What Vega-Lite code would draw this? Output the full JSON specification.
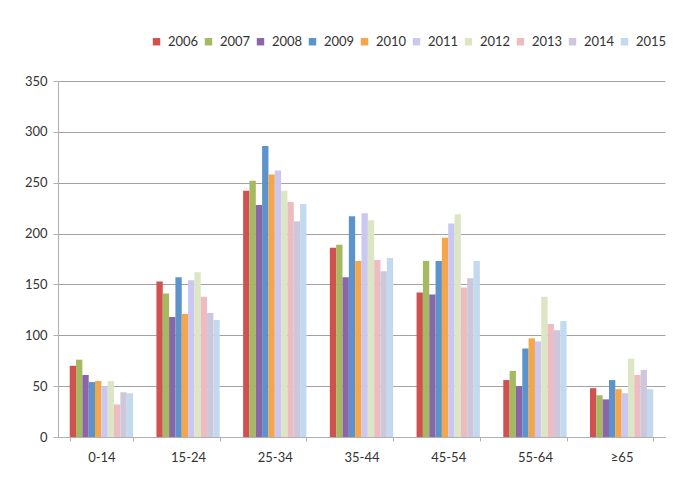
{
  "$schema": "https://vega.github.io/schema/vega-lite/v6.json",
  "autosize": {"type": "none"},
  "width": 607,
  "height": 356,
  "padding": {"left": 58, "top": 81, "right": 11, "bottom": 41},
  "background": "#ffffff",
  "config": {
    "view": {"stroke": null},
    "font": "Lato",
    "axis": {"labelFont": "Lato", "labelColor": "#333333", "labelFontSize": 12, "domainColor": "#b0b0b0", "tickColor": "#b0b0b0"},
    "legend": {"labelFont": "Lato", "labelColor": "#333333", "labelFontSize": 12}
  },
  "data": {
    "values": [
      {"age": "0-14", "year": "2006", "v": 70}, {"age": "0-14", "year": "2007", "v": 76}, {"age": "0-14", "year": "2008", "v": 61}, {"age": "0-14", "year": "2009", "v": 54}, {"age": "0-14", "year": "2010", "v": 55}, {"age": "0-14", "year": "2011", "v": 50}, {"age": "0-14", "year": "2012", "v": 55}, {"age": "0-14", "year": "2013", "v": 32}, {"age": "0-14", "year": "2014", "v": 44}, {"age": "0-14", "year": "2015", "v": 43},
      {"age": "15-24", "year": "2006", "v": 153}, {"age": "15-24", "year": "2007", "v": 141}, {"age": "15-24", "year": "2008", "v": 118}, {"age": "15-24", "year": "2009", "v": 157}, {"age": "15-24", "year": "2010", "v": 121}, {"age": "15-24", "year": "2011", "v": 154}, {"age": "15-24", "year": "2012", "v": 162}, {"age": "15-24", "year": "2013", "v": 138}, {"age": "15-24", "year": "2014", "v": 122}, {"age": "15-24", "year": "2015", "v": 115},
      {"age": "25-34", "year": "2006", "v": 242}, {"age": "25-34", "year": "2007", "v": 252}, {"age": "25-34", "year": "2008", "v": 228}, {"age": "25-34", "year": "2009", "v": 286}, {"age": "25-34", "year": "2010", "v": 258}, {"age": "25-34", "year": "2011", "v": 262}, {"age": "25-34", "year": "2012", "v": 242}, {"age": "25-34", "year": "2013", "v": 231}, {"age": "25-34", "year": "2014", "v": 212}, {"age": "25-34", "year": "2015", "v": 229},
      {"age": "35-44", "year": "2006", "v": 186}, {"age": "35-44", "year": "2007", "v": 189}, {"age": "35-44", "year": "2008", "v": 157}, {"age": "35-44", "year": "2009", "v": 217}, {"age": "35-44", "year": "2010", "v": 173}, {"age": "35-44", "year": "2011", "v": 220}, {"age": "35-44", "year": "2012", "v": 213}, {"age": "35-44", "year": "2013", "v": 174}, {"age": "35-44", "year": "2014", "v": 163}, {"age": "35-44", "year": "2015", "v": 176},
      {"age": "45-54", "year": "2006", "v": 142}, {"age": "45-54", "year": "2007", "v": 173}, {"age": "45-54", "year": "2008", "v": 140}, {"age": "45-54", "year": "2009", "v": 173}, {"age": "45-54", "year": "2010", "v": 196}, {"age": "45-54", "year": "2011", "v": 210}, {"age": "45-54", "year": "2012", "v": 219}, {"age": "45-54", "year": "2013", "v": 147}, {"age": "45-54", "year": "2014", "v": 156}, {"age": "45-54", "year": "2015", "v": 173},
      {"age": "55-64", "year": "2006", "v": 56}, {"age": "55-64", "year": "2007", "v": 65}, {"age": "55-64", "year": "2008", "v": 50}, {"age": "55-64", "year": "2009", "v": 87}, {"age": "55-64", "year": "2010", "v": 97}, {"age": "55-64", "year": "2011", "v": 94}, {"age": "55-64", "year": "2012", "v": 138}, {"age": "55-64", "year": "2013", "v": 111}, {"age": "55-64", "year": "2014", "v": 105}, {"age": "55-64", "year": "2015", "v": 114},
      {"age": "≥65", "year": "2006", "v": 48}, {"age": "≥65", "year": "2007", "v": 41}, {"age": "≥65", "year": "2008", "v": 37}, {"age": "≥65", "year": "2009", "v": 56}, {"age": "≥65", "year": "2010", "v": 47}, {"age": "≥65", "year": "2011", "v": 43}, {"age": "≥65", "year": "2012", "v": 77}, {"age": "≥65", "year": "2013", "v": 61}, {"age": "≥65", "year": "2014", "v": 66}, {"age": "≥65", "year": "2015", "v": 47}
    ]
  },
  "mark": {"type": "bar"},
  "encoding": {
    "x": {
      "field": "age", "type": "nominal", "sort": null,
      "scale": {"paddingInner": 0.27, "paddingOuter": 0.135},
      "axis": {"title": null, "labelAngle": 0, "labelPadding": 10, "tickBand": "extent", "tickSize": 4, "labelFontSize": 13, "grid": false}
    },
    "xOffset": {"field": "year", "type": "nominal", "scale": {"paddingInner": 0, "paddingOuter": 0}},
    "y": {
      "field": "v", "type": "quantitative",
      "scale": {"domain": [0, 350], "nice": false},
      "axis": {"title": null, "values": [0, 50, 100, 150, 200, 250, 300, 350], "grid": true, "gridColor": "#8a8a8a", "gridWidth": 0.8, "tickSize": 5, "labelPadding": 6, "labelFontSize": 13, "domainColor": "#b0b0b0"}
    },
    "color": {
      "field": "year", "type": "nominal",
      "scale": {
        "domain": ["2006", "2007", "2008", "2009", "2010", "2011", "2012", "2013", "2014", "2015"],
        "range": ["#cf5250", "#a4b960", "#8a66a8", "#5c93cb", "#f5a54a", "#cac8f0", "#dce6c4", "#ecbcc0", "#cdc7dc", "#c2d9ef"]
      },
      "legend": {
        "title": null, "orient": "none", "direction": "horizontal", "columns": 10,
        "legendX": 92, "legendY": -46, "symbolType": "square", "symbolSize": 55,
        "symbolStrokeWidth": 0, "labelOffset": 5, "columnPadding": 3, "labelFontSize": 13
      }
    }
  }
}
